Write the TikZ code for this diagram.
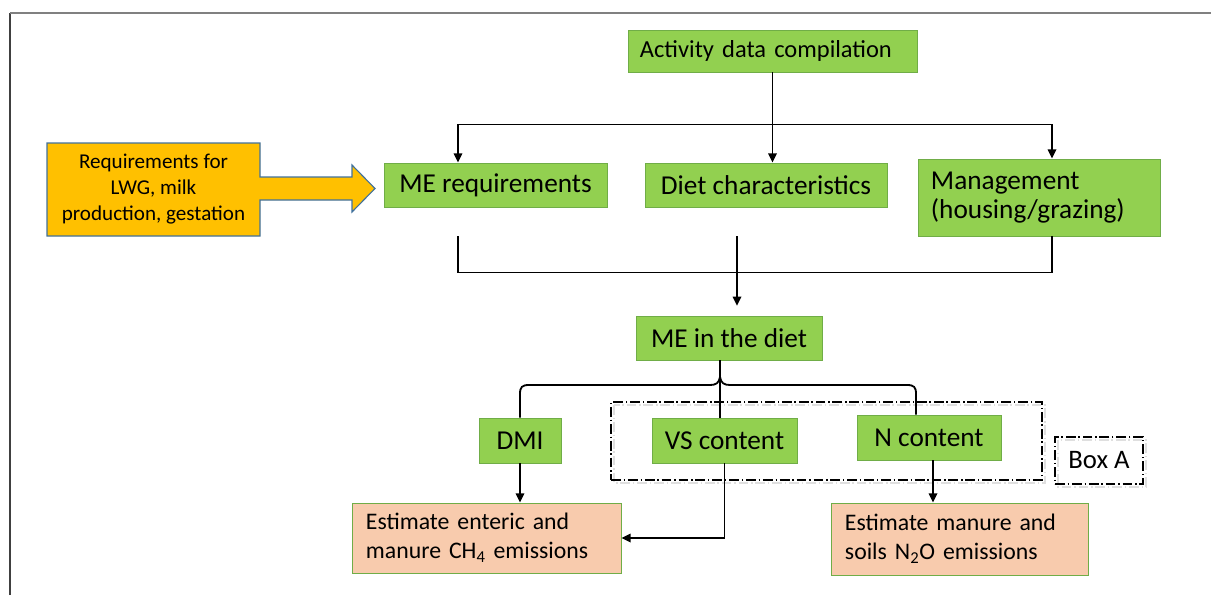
\documentclass[tikz,border=0pt]{standalone}
\usepackage{fontspec}
\setmainfont{Carlito}
\usepackage{xcolor}
\usepackage{tikz}
\usetikzlibrary{positioning, arrows.meta, calc}

\definecolor{leafgreen}{HTML}{92D050}
\definecolor{rimgreen}{HTML}{70AD47}
\definecolor{peach}{HTML}{F8CBAD}
\definecolor{amber}{HTML}{FFC000}
\definecolor{rimblue}{HTML}{41719C}
\newcommand{\unitpx}{0.025cm}

\begin{document}
\begin{tikzpicture}[x=0.025cm, y=-0.025cm,
  every node/.style={inner sep=2pt},
  boxsize/.style 2 args={minimum width=#1*\unitpx, minimum height=#2*\unitpx},
  greenbox/.style={draw=rimgreen, fill=leafgreen, line width=0.6pt, font=\fontsize{19.4}{23.5}\selectfont},
  peachbox/.style={draw=rimgreen, fill=peach, line width=0.6pt, align=left, inner xsep=0.35cm, font=\fontsize{16.9}{20.6}\selectfont},
  link/.style={black, line width=1.3pt},
  arrow/.style={link, -{Triangle[width=6pt, length=6.5pt]}},
  regionbox/.style={draw=black, line width=0.9pt, dash pattern=on 7pt off 2pt on 1pt off 2pt},
  shadowline/.style={draw=gray!25, line width=1.6pt, dash pattern=on 7pt off 2pt on 1pt off 2pt}
]
\useasboundingbox (0,0) rectangle (1211,595);
% page frame
\draw[black!75, line width=1.4pt] (10,595) -- (10,13);
\draw[gray, line width=1.2pt] (10,13) -- (1211,13);

% top row
\node[greenbox, boxsize={289}{42}, align=left, text width=6.625cm, inner xsep=0.3cm, font=\fontsize{17.4}{21}\selectfont] (activity) at (772.5,51) {Activity data compilation};
\node[greenbox, boxsize={223}{44}] (mereq) at (495.5,185) {ME requirements};
\node[greenbox, boxsize={242}{44}] (diet) at (766,185) {Diet characteristics};
\node[greenbox, boxsize={242}{77}, align=left, text width=5.4cm, inner xsep=0.325cm] (manage) at (1039,197.5) {\raisebox{-3pt}{Management}\\(housing/grazing)};

% requirements arrow
\draw[draw=rimblue, fill=amber, line width=0.8pt] (47,143) -- (260,143) -- (260,177) -- (352,177) -- (352,165) -- (375,188.5) -- (352,212) -- (352,200) -- (260,200) -- (260,236) -- (47,236) -- cycle;
\node[align=center, font=\fontsize{15}{18.5}\selectfont] (lwgreq) at (153.5,189.5) {Requirements for\\LWG, milk\\production, gestation};

% middle and lower rows
\node[greenbox, boxsize={186}{44}] (mediet) at (729,338) {ME in the diet};
\draw[shadowline] (614,405) rectangle (1045,483);
\draw[shadowline] (1058,440) rectangle (1146,487);
\node[regionbox, boxsize={431}{78}] (regionA) at (826.5,441) {};
\node[regionbox, boxsize={88}{47}, font=\fontsize{19}{23}\selectfont] (boxA) at (1099,460.5) {Box A};
\node[greenbox, boxsize={82}{45}] (dmi) at (520,440.5) {DMI};
\node[greenbox, boxsize={145}{45}] (vscontent) at (724.5,440.5) {VS content};
\node[greenbox, boxsize={144}{45}] (ncontent) at (929,437.5) {N content};
\node[peachbox, boxsize={269}{70}, text width=6.025cm] (ch4) at (486.5,538) {Estimate enteric and\\manure CH\textsubscript{4} emissions};
\node[peachbox, boxsize={257}{72}, text width=5.725cm] (n2o) at (959.5,539) {Estimate manure and\\soils N\textsubscript{2}O emissions};

% connectors
\draw[link] (activity.south) -- ++(0,52) coordinate (fork);
\draw[arrow] (fork) -| ($(mereq.north)+(-37.5,0)$);
\draw[arrow] (fork) -- (fork |- diet.north);
\draw[arrow] (fork) -| ($(manage.north)+(13,0)$);
\draw[link] ($(mereq.south)+(-37.5,29)$) -- ($(mereq.south)+(-37.5,65)$) -| ($(manage.south)+(13,0)$);
\draw[arrow, shorten >=7pt] ($(diet.south)+(-29,29)$) -- ($(mediet.north)+(8,0)$);
\draw[link] (dmi.north) -- (520,394) .. controls (520,387) and (522,385) .. (529,385) -- (710,385)
  .. controls (716,385) and (719,383) .. (720,377) .. controls (721,383) and (724,385) .. (730,385)
  -- (907,385) .. controls (914,385) and (916,387) .. (916,394) -- ($(ncontent.north)+(-13,0)$);
\draw[link] ($(mediet.south)+(-9,0)$) -- ($(vscontent.north)+(-4.5,0)$);
\draw[arrow] (dmi.south) -- (dmi.south |- ch4.north);
\draw[arrow] (vscontent.south) |- (ch4.east);
\coordinate (nfoot) at ($(ncontent.south)+(4,0)$);
\draw[arrow] (nfoot) -- (nfoot |- n2o.north);
\end{tikzpicture}
\end{document}
